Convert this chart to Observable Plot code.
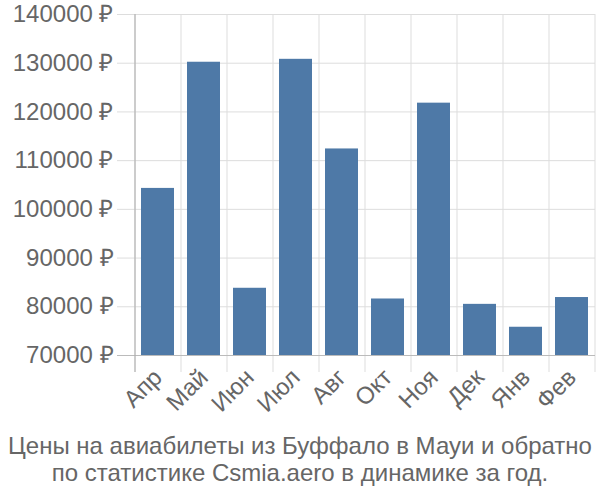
<!DOCTYPE html>
<html><head><meta charset="utf-8">
<script src="https://cdn.jsdelivr.net/npm/d3@7"></script>
<script src="https://cdn.jsdelivr.net/npm/@observablehq/plot@0.6"></script>
<style>
body{margin:0;background:#fff;font-family:"Liberation Sans",Arial,sans-serif;}
#title{width:600px;text-align:center;font-size:24px;line-height:27px;color:#666;}
</style></head>
<body><div id="chart"></div><div id="title">Цены на авиабилеты из Буффало в Мауи и обратно<br>по статистике Csmia.aero в динамике за год.</div>
<script>
const months = ["Апр","Май","Июн","Июл","Авг","Окт","Ноя","Дек","Янв","Фев"];
const prices = [104300,130200,83800,130800,112400,81600,121800,80500,75800,81900];
const yTicks = [70000,80000,90000,100000,110000,120000,130000,140000];
const data = months.map((m,i)=>({month:m, price:prices[i]}));
const step = (600-135-5)/months.length;
const chart = Plot.plot({
  width:600, height:432,
  marginLeft:135, marginRight:5, marginTop:14, marginBottom:77,
  style:{fontFamily:"'Liberation Sans', Arial, sans-serif", fontSize:"24px", color:"#666", background:"#fff"},
  x:{domain:months, paddingInner:0.28, paddingOuter:0.14, label:null},
  y:{domain:[70000,140000], label:null},
  marks:[
    Plot.ruleY(yTicks,{stroke:"#ddd", insetLeft:-18}),
    Plot.ruleX(months,{stroke:"#ddd", dx:-step/2, insetBottom:-17}),
    Plot.ruleX([months[months.length-1]],{stroke:"#ddd", dx:step/2, insetBottom:-17}),
    Plot.barY(data,{x:"month", y1:70000, y2:"price", fill:"#4e79a7"}),
    Plot.ruleY([70000],{stroke:"#bbb", insetLeft:-18}),
    Plot.ruleX([months[0]],{stroke:"#aaa", dx:-step/2, insetBottom:-17}),
    Plot.axisY(yTicks,{tickSize:0, tickPadding:22, tickFormat:d=>d+" ₽", fill:"#666", fontSize:24}),
    Plot.axisX({tickSize:0, tickRotate:-45, tickPadding:18, fill:"#666", fontSize:24})
  ]
});
document.getElementById("chart").appendChild(chart);
</script></body></html>
